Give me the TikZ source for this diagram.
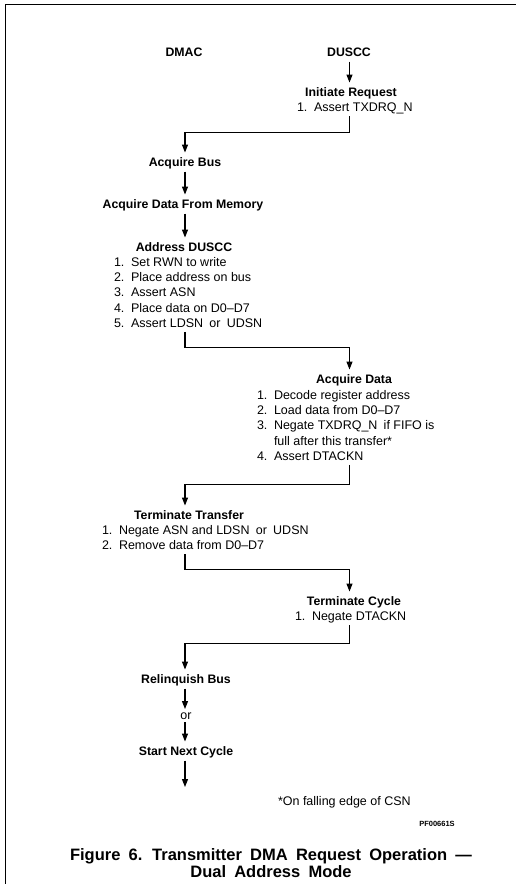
\documentclass[tikz,border=0pt]{standalone}
\usepackage{fontspec}
\setmainfont{Liberation Sans}
\usetikzlibrary{arrows.meta}
\newcommand{\itm}[2]{\makebox[17pt][l]{#1}#2}
\newcommand{\ttlfont}{\bfseries\fontsize{16.5pt}{17pt}\selectfont\spaceskip=8.2pt plus 1pt\relax}
\tikzset{
  head/.style={font=\bfseries\fontsize{12.3pt}{15pt}\selectfont, inner sep=0pt, text height=9pt, text depth=0pt, outer ysep=5pt, anchor=base},
  lst/.style={font=\fontsize{12.5pt}{15.2pt}\selectfont, inner sep=0pt, outer sep=0pt, anchor=base west},
  arr/.style={line width=1.1pt, -{Triangle[length=8pt,width=6pt]}},
  ln/.style={line width=1pt},
}
\begin{document}
\begin{tikzpicture}[x=1pt,y=-1pt]
\useasboundingbox (0,0) rectangle (516,884);
% frame
\draw[ln] (516,4) -- (5,4) -- (5,884);
\coordinate (L) at (185,0);
\coordinate (R) at (349.5,0);
% column titles
\node[head] (dmac) at (184,56.5) {DMAC};
\node[head] (duscc) at (349,56.5) {DUSCC};
% initiate request
\node[head] (ini) at (351,96.5) {Initiate Request};
\node[lst] (inil) at (297,111.5) {\begin{tabular}[t]{@{}l@{}}\itm{1.}{Assert TXDRQ\_N}\end{tabular}};
% DMAC acquire bus
\node[head] (acqbus) at (185,166.5) {Acquire Bus};
\node[head] (adfm) at (183,208.5) {Acquire Data From Memory};
\node[head] (addr) at (184,251.5) {Address DUSCC};
\node[lst] (addrl) at (114,266.5) {\begin{tabular}[t]{@{}l@{}}
\itm{1.}{Set RWN to write}\\
\itm{2.}{Place address on bus}\\
\itm{3.}{Assert ASN}\\
\itm{4.}{Place data on D0–D7}\\
\itm{5.}{Assert LDSN\enspace or\enspace UDSN}\end{tabular}};
% DUSCC acquire data
\node[head] (acqd) at (354,383.5) {Acquire Data};
\node[lst] (acqdl) at (257,399.5) {\begin{tabular}[t]{@{}l@{}}
\itm{1.}{Decode register address}\\
\itm{2.}{Load data from D0–D7}\\
\itm{3.}{Negate TXDRQ\_N\enspace if FIFO is}\\
\itm{}{full after this transfer*}\\
\itm{4.}{Assert DTACKN}\end{tabular}};
% terminate transfer
\node[head] (ttr) at (189,519.5) {Terminate Transfer};
\node[lst] (ttrl) at (102,534.5) {\begin{tabular}[t]{@{}l@{}}
\itm{1.}{Negate ASN and LDSN\enspace or\enspace UDSN}\\
\itm{2.}{Remove data from D0–D7}\end{tabular}};
% terminate cycle
\node[head] (tcy) at (354,605.5) {Terminate Cycle};
\node[lst] (tcyl) at (295,620.5) {\begin{tabular}[t]{@{}l@{}}\itm{1.}{Negate DTACKN}\end{tabular}};
% relinquish
\node[head] (rel) at (186,683.5) {Relinquish Bus};
\node[font=\fontsize{12.5pt}{15pt}\selectfont, inner sep=0pt, text height=7pt, text depth=0pt, outer ysep=3pt, anchor=base] (or) at (186,719) {or};
\node[head] (snc) at (186,755.5) {Start Next Cycle};
\coordinate (end) at (186,787);
% notes
\node[lst] (fn) at (278,805.5) {*On falling edge of CSN};
\node[font=\bfseries\fontsize{7.5pt}{9pt}\selectfont, inner sep=0pt, anchor=base] (pf) at (437,826) {PF00661S};
\node[font=\ttlfont, inner sep=0pt, anchor=base] (title) at (271,860)
  {\begin{tabular}[t]{@{}c@{}}Figure 6. Transmitter DMA Request Operation —\\Dual Address Mode\end{tabular}};
% connectors
\draw[arr] (duscc.south -| R) -- (ini.north -| R);
\draw[arr] (inil.south -| R) -- ++(0,16) -| (acqbus.north -| L);
\draw[arr] (acqbus.south -| L) -- (adfm.north -| L);
\draw[arr] (adfm.south -| L) -- (addr.north -| L);
\draw[arr] (addrl.south -| L) -- ++(0,16) -| (acqd.north -| R);
\draw[arr] (acqdl.south -| R) -- ++(0,20) -| (ttr.north -| L);
\draw[arr] (ttrl.south -| L) -- ++(0,15) -| (tcy.north -| R);
\draw[arr] (tcyl.south -| R) -- ++(0,18) -| (rel.north -| L);
\draw[arr] (rel.south -| L) -- (or.north -| L);
\draw[arr] (or.south -| L) -- (snc.north -| L);
\draw[arr] (snc.south -| L) -- (end -| L);
\end{tikzpicture}
\end{document}
